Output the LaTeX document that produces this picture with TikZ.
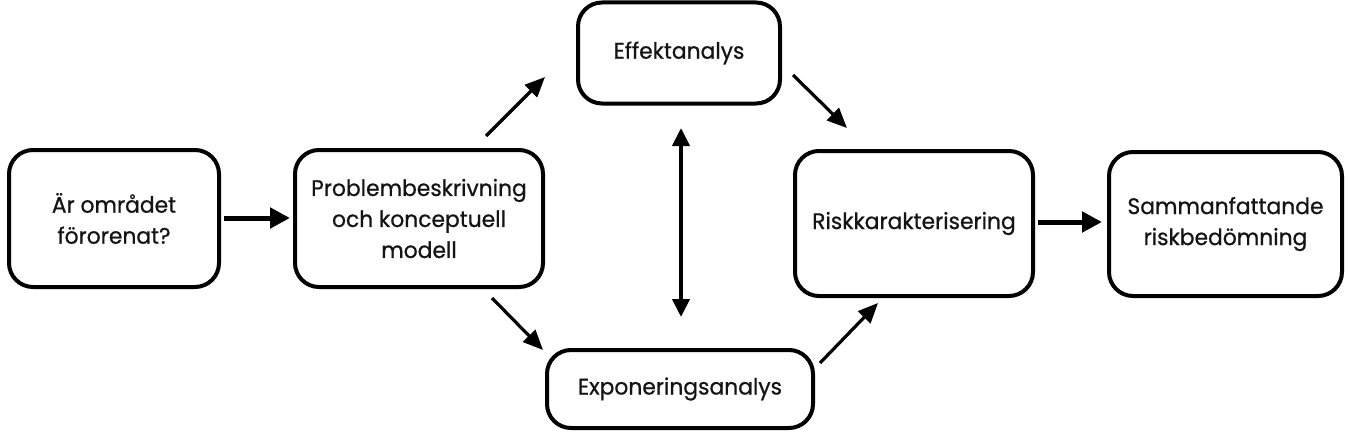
\documentclass[tikz,border=0pt]{standalone}
\usepackage{fontspec}
\setmainfont{Poppins}
\newfontfamily\boxfont{Poppins}[FakeBold=0.7,FakeStretch=0.97]
\usetikzlibrary{arrows.meta}
\begin{document}
\begin{tikzpicture}[x=1pt,y=-1pt,
  box/.style={draw=black,line width=4pt,rounded corners=24pt,inner sep=0pt,
    align=center,font=\boxfont\fontsize{22.5}{31}\selectfont,text=black!92},
  bigarrow/.style={line width=5pt,-{Triangle[length=20pt,width=20pt]}},
  diagarrow/.style={line width=3.2pt,-{Triangle[length=20pt,width=17pt]}},
  dblarrow/.style={line width=4pt,{Triangle[length=18pt,width=17pt]}-{Triangle[length=18pt,width=17pt]}}]
\useasboundingbox (0,0) rectangle (1350,444);
\node[box,minimum width=210pt,minimum height=137pt] (fraga) at (114,218.5) {Är området\\förorenat?};
\node[box,minimum width=248pt,minimum height=137pt] (problem) at (419,218.5) {Problembeskrivning\\och konceptuell\\modell};
\node[box,minimum width=202pt,minimum height=101pt] (effekt) at (679,53) {Effektanalys};
\node[box,minimum width=266pt,minimum height=78pt] (expo) at (680,389) {Exponeringsanalys};
\node[box,minimum width=238pt,minimum height=145pt] (risk) at (914,223.5) {Riskkarakterisering};
\node[box,minimum width=233pt,minimum height=144pt] (samman) at (1225.5,224) {Sammanfattande\\riskbedömning};
\coordinate (a1s) at (224,218);  \coordinate (a1e) at (290,218);
\coordinate (a2s) at (486,136);  \coordinate (a2e) at (545,77);
\coordinate (a3s) at (793,75);   \coordinate (a3e) at (847,128);
\coordinate (a4s) at (492,298);  \coordinate (a4e) at (543,350);
\coordinate (a5s) at (820,363);  \coordinate (a5e) at (878,303);
\coordinate (a6s) at (1038,222); \coordinate (a6e) at (1102,222);
\coordinate (d1) at (681,128);   \coordinate (d2) at (681,317);
\draw[bigarrow] (a1s) -- (a1e);
\draw[bigarrow] (a6s) -- (a6e);
\draw[diagarrow] (a2s) -- (a2e);
\draw[diagarrow] (a3s) -- (a3e);
\draw[diagarrow] (a4s) -- (a4e);
\draw[diagarrow] (a5s) -- (a5e);
\draw[dblarrow] (d1) -- (d2);
\end{tikzpicture}
\end{document}
